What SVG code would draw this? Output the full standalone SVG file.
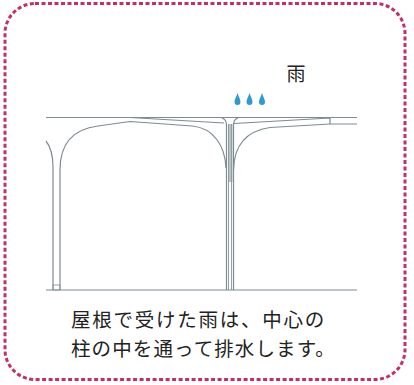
<svg xmlns="http://www.w3.org/2000/svg" width="414" height="385" viewBox="0 0 414 385">
  <style>
    .frame { fill: none; stroke: #c2306c; stroke-width: 3; stroke-dasharray: 4 2.5; }
    .ln { fill: none; stroke: #7d8b92; stroke-width: 1.2; stroke-linejoin: round; }
    .thin { fill: none; stroke: #8a979d; stroke-width: 0.9; }
    .drop { fill: #2b9ad6; }
    .jp { font-family: "Noto Sans CJK JP", "Noto Sans CJK SC", sans-serif; fill: #222; }
  </style>
  <defs>
    <path id="drop" d="M0,-7 C1.2,-3 3,-1 3,2 A3,3 0 0 1 -3,2 C-3,-1 -1.2,-3 0,-7 Z"/>
  </defs>

  <!-- dashed frame -->
  <rect class="frame" x="5" y="3.5" width="400" height="376" rx="30" ry="30"/>

  <!-- rain label and drops -->
  <g id="rain">
    <text class="jp" x="296" y="81" font-size="19" text-anchor="middle">雨</text>
    <use href="#drop" class="drop" x="237.5" y="100"/>
    <use href="#drop" class="drop" x="249.5" y="100"/>
    <use href="#drop" class="drop" x="262" y="100"/>
  </g>

  <!-- roof slab and ground -->
  <g id="roof">
    <path class="ln" d="M46,117.5 H357"/>
    <path class="ln" d="M130,117.5 L224,123"/>
    <path class="ln" d="M234,123.5 L330,118 V124 H357"/>
    <path class="ln" d="M46,290 H357"/>
  </g>

  <!-- left arch with edge column -->
  <g id="left-arch">
    <path class="ln" d="M46,141 C51,147 53,156 53,168 V290"/>
    <path class="ln" d="M60,290 V170 C60,142 74,129 98,126 L130,121.5 L192,126 C214,128 225,146 226,168"/>
    <rect class="thin" x="53" y="285" width="7" height="5"/>
  </g>

  <!-- central column carrying the drain -->
  <g id="center-column">
    <rect x="228" y="124" width="4.5" height="58" fill="#b9c2c6"/>
    <path class="ln" d="M222,118 C225,119 226.5,121 226.5,125 V290"/>
    <path class="ln" d="M238,118 C235,119 233.5,121 233.5,125 V290"/>
    <path class="thin" d="M228.5,124 V290 M231.5,124 V290"/>
  </g>

  <!-- right arch -->
  <g id="right-arch">
    <path class="ln" d="M233.5,170 C234,145 246,131 270,127.5 L330,124"/>
  </g>

  <!-- caption -->
  <g id="caption">
    <text class="jp" x="71" y="327" font-size="19.5" letter-spacing="1.75">屋根で受けた雨は、中心の</text>
    <text class="jp" x="71" y="355.5" font-size="19.5" letter-spacing="1.1">柱の中を通って排水します。</text>
  </g>
</svg>
